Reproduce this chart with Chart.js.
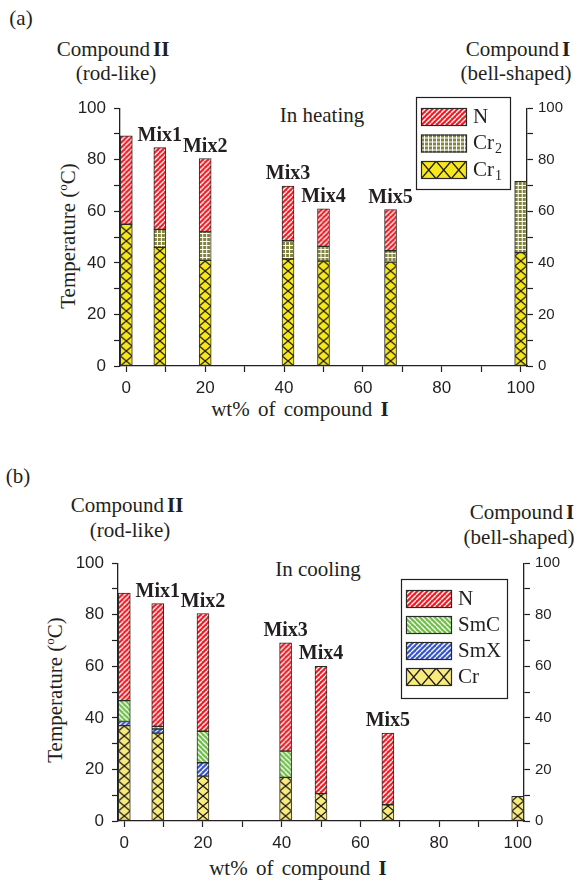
<!DOCTYPE html>
<html>
<head>
<meta charset="utf-8">
<script src="https://cdn.jsdelivr.net/npm/chart.js@4.4.1/dist/chart.umd.min.js"></script>
<style>
  body { margin: 0; background: #fff; }
  #page { position: relative; width: 574px; height: 881px; overflow: hidden; }
  canvas { position: absolute; left: 0; }
  .t { position: absolute; font-family: "Liberation Serif", serif; font-size: 21px; color: #231f20;
       white-space: nowrap; line-height: 1; transform: translate(-50%, -50%); }
  .t b.g { margin-left: 3px; }
  .rot { transform: translate(-50%, -50%) rotate(-90deg); }
  sup { font-size: 13px; vertical-align: 8px; line-height: 0; }
</style>
</head>
<body>
<div id="page">
  <div class="t" style="left:21px;top:18px">(a)</div>
  <div class="t" style="left:113px;top:49px">Compound<b class="g">II</b></div>
  <div class="t" style="left:116px;top:73px">(rod-like)</div>
  <div class="t" style="left:518px;top:49px">Compound<b class="g">I</b></div>
  <div class="t" style="left:516px;top:73px">(bell-shaped)</div>
  <div class="t" style="left:322px;top:115px">In heating</div>
  <div class="t rot" style="left:68px;top:236px">Temperature (<sup>o</sup>C)</div>
  <div class="t" style="left:300px;top:409px;word-spacing:3px">wt% of compound <b>I</b></div>
  <canvas id="heat" width="574" height="330" style="top:90px"></canvas>

  <div class="t" style="left:18px;top:476px">(b)</div>
  <div class="t" style="left:127px;top:505px">Compound<b class="g">II</b></div>
  <div class="t" style="left:130px;top:530px">(rod-like)</div>
  <div class="t" style="left:522px;top:512px">Compound<b class="g">I</b></div>
  <div class="t" style="left:519px;top:537px">(bell-shaped)</div>
  <div class="t" style="left:318px;top:569px">In cooling</div>
  <div class="t rot" style="left:55px;top:690px">Temperature (<sup>o</sup>C)</div>
  <div class="t" style="left:298px;top:868px;word-spacing:3px">wt% of compound <b>I</b></div>
  <canvas id="cool" width="574" height="330" style="top:545px"></canvas>
</div>
<script>
// composition of each sample (wt% of compound I)
var mixPos = [0, 8.5, 20, 41, 50, 67, 100];
var mixNames = ["", "Mix1", "Mix2", "Mix3", "Mix4", "Mix5", ""];

// heating: upper temperature of each phase (null = phase not seen)
var heatCr1 = [55, 46, 41, 41.5, 40.7, 40.3, 44];
var heatCr2 = [null, 53, 52, 48.6, 46.4, 44.7, 71.6];
var heatN = [89.3, 84.7, 80.5, 69.8, 61, 60.7, null];

// cooling: upper temperature of each phase
var coolCr = [37, 34.1, 17.4, 16.9, 10.6, 6.3, 9.6];
var coolSmX = [38.6, 35.7, 22.6, null, null, null, null];
var coolSmC = [46.7, 36.7, 34.8, 27.1, null, null, null];
var coolN = [88.4, 84.3, 80.5, 69.1, 60, 34.1, null];

var tickValues = [0, 20, 40, 60, 80, 100];

var INK = "#231f20";

function makeTile(kind, w, h) {
    var c = document.createElement("canvas");
    c.width = w; c.height = h;
    var g = c.getContext("2d");
    g.fillStyle = kind.color;
    g.fillRect(0, 0, w, h);
    if (kind.type === "stripe" || kind.type === "back") {
        g.strokeStyle = "#fff";
        g.lineWidth = 1.3;
        for (var k = -1; k <= 1; k++) {
            g.beginPath();
            if (kind.type === "stripe") {
                g.moveTo(k * w, h); g.lineTo(k * w + w, 0);
            } else {
                g.moveTo(k * w, 0); g.lineTo(k * w + w, h);
            }
            g.stroke();
        }
    } else if (kind.type === "grid") {
        g.fillStyle = "#fff";
        g.fillRect(w - 1, 0, 1, h);
        g.fillRect(0, h - 1, w, 1);
    } else if (kind.type === "cross") {
        g.strokeStyle = "#1a1a1a";
        g.lineWidth = 1.3;
        g.beginPath();
        g.moveTo(0, 0); g.lineTo(w, h);
        g.moveTo(w, 0); g.lineTo(0, h);
        g.stroke();
    }
    return c;
}

var kinds = {
    N: { type: "stripe", color: "#ee1d25", w: 5, h: 5 },
    Cr2: { type: "grid", color: "#838342", w: 4, h: 4 },
    Cr1: { type: "cross", color: "#f7e71c", w: 12, h: 10 },
    SmC: { type: "back", color: "#6dbf45", w: 5, h: 5 },
    SmX: { type: "stripe", color: "#3655c8", w: 5, h: 5 },
    Cr: { type: "cross", color: "#f8ea7c", w: 12, h: 10 }
};

function patternAt(ctx2d, kind, w, h, ox, oy) {
    var p = ctx2d.createPattern(makeTile(kind, w, h), "repeat");
    if (p.setTransform) p.setTransform(new DOMMatrix([1, 0, 0, 1, ox, oy]));
    return p;
}

function barFill(kind) {
    return function (c) {
        var chart = c.chart;
        if (!c.raw || !chart.scales.x) return kind.color;
        var left = chart.scales.x.getPixelForValue(c.raw.x) - 6;
        var bottom = chart.scales.y.getPixelForValue(0);
        return patternAt(chart.ctx, kind, kind.w, kind.h, left, bottom);
    };
}

// floating segments from stacked transition temperatures
function buildSets(phases) {
    var lower = mixPos.map(function () { return 0; });
    return phases.map(function (ph) {
        var pts = [];
        ph.tops.forEach(function (top, i) {
            if (top === null) return;
            pts.push({ x: mixPos[i], y: [lower[i], top] });
            lower[i] = top;
        });
        return {
            label: ph.label,
            sub: ph.sub,
            kind: ph.kind,
            data: pts,
            backgroundColor: barFill(ph.kind),
            borderColor: "#2a2a2a",
            borderWidth: 1,
            borderSkipped: false,
            barThickness: 12,
            grouped: false
        };
    });
}

function stackTops(lists) {
    return mixPos.map(function (p, i) {
        var t = null;
        lists.forEach(function (l) { if (l[i] !== null) t = l[i]; });
        return t;
    });
}

var mixLabels = {
    id: "mixLabels",
    afterDatasetsDraw: function (chart, args, opts) {
        var ctx = chart.ctx;
        ctx.save();
        ctx.font = "bold 20px 'Liberation Serif'";
        ctx.fillStyle = INK;
        ctx.textAlign = "center";
        ctx.textBaseline = "bottom";
        mixNames.forEach(function (name, i) {
            if (!name) return;
            var x = chart.scales.x.getPixelForValue(mixPos[i]);
            var y = chart.scales.y.getPixelForValue(opts.tops[i]) - 2;
            ctx.fillText(name, x, y);
        });
        ctx.restore();
    }
};

var boxLegend = {
    id: "boxLegend",
    afterDraw: function (chart, args, opts) {
        var ctx = chart.ctx;
        ctx.save();
        ctx.fillStyle = "#fff";
        ctx.fillRect(opts.x, opts.y, opts.w, opts.h);
        ctx.strokeStyle = INK;
        ctx.lineWidth = 1.2;
        ctx.strokeRect(opts.x + 0.5, opts.y + 0.5, opts.w, opts.h);
        var sets = chart.data.datasets.slice().reverse();
        sets.forEach(function (ds, i) {
            var sx = opts.x + 5, sy = opts.y + opts.first + i * opts.step;
            var k = ds.kind;
            var tw = k.type === "cross" ? 46 / 3 : k.w;
            var th = k.type === "cross" ? 18 : k.h;
            ctx.fillStyle = patternAt(ctx, k, tw, th, sx, sy);
            ctx.fillRect(sx, sy, 46, 18);
            ctx.lineWidth = 1.2;
            ctx.strokeStyle = "#2a2a2a";
            ctx.strokeRect(sx + 0.5, sy + 0.5, 45, 17);
            ctx.fillStyle = INK;
            ctx.textBaseline = "middle";
            ctx.font = "21px 'Liberation Serif'";
            ctx.fillText(ds.label, sx + 52, sy + 9);
            if (ds.sub) {
                var lw = ctx.measureText(ds.label).width;
                ctx.font = "14px 'Liberation Serif'";
                ctx.fillText(ds.sub, sx + 53 + lw, sy + 15);
            }
        });
        ctx.restore();
    }
};

function axisY(pos, width, size, pad) {
    return {
        type: "linear",
        position: pos,
        display: true,
        min: 0,
        max: 100,
        afterFit: function (s) { s.width = width; },
        border: { display: true, color: INK, width: 1.3 },
        grid: { drawOnChartArea: false, tickLength: 6, tickColor: INK, tickWidth: 1.2 },
        ticks: {
            stepSize: 10,
            padding: pad,
            color: INK,
            font: { family: "Liberation Sans", size: size },
            callback: function (v) { return tickValues.indexOf(v) >= 0 ? v : ""; }
        }
    };
}

function makeChart(id, sets, tops, leftW, rightW, legend) {
    new Chart(document.getElementById(id).getContext("2d"), {
        type: "bar",
        data: { datasets: sets },
        plugins: [mixLabels, boxLegend],
        options: {
            responsive: false,
            animation: false,
            layout: { padding: { top: 17, left: 0, right: 0, bottom: 0 } },
            plugins: {
                legend: { display: false },
                tooltip: { enabled: false },
                mixLabels: { tops: tops },
                boxLegend: legend
            },
            scales: {
                x: {
                    type: "linear",
                    min: -1.6,
                    max: 101.6,
                    offset: false,
                    afterFit: function (s) { s.height = 54; },
                    border: { display: true, color: INK, width: 1.3 },
                    grid: { offset: false, drawOnChartArea: false, tickLength: 6, tickColor: INK, tickWidth: 1.2 },
                    ticks: {
                        stepSize: 10,
                        includeBounds: false,
                        autoSkip: false,
                        maxRotation: 0,
                        padding: 6,
                        color: INK,
                        font: { family: "Liberation Sans", size: 17 },
                        callback: function (v) { return tickValues.indexOf(v) >= 0 ? v : ""; }
                    }
                },
                y: axisY("left", leftW, 17, 8),
                y2: axisY("right", rightW, 15, 5)
            }
        }
    });
}

makeChart("heat",
    buildSets([
        { label: "Cr", sub: "1", kind: kinds.Cr1, tops: heatCr1 },
        { label: "Cr", sub: "2", kind: kinds.Cr2, tops: heatCr2 },
        { label: "N", kind: kinds.N, tops: heatN }
    ]),
    stackTops([heatCr1, heatCr2, heatN]), 120, 47,
    { x: 416, y: 7, w: 94, h: 92, first: 11, step: 26.5 });

makeChart("cool",
    buildSets([
        { label: "Cr", kind: kinds.Cr, tops: coolCr },
        { label: "SmX", kind: kinds.SmX, tops: coolSmX },
        { label: "SmC", kind: kinds.SmC, tops: coolSmC },
        { label: "N", kind: kinds.N, tops: coolN }
    ]),
    stackTops([coolCr, coolSmX, coolSmC, coolN]), 118, 50,
    { x: 401, y: 34, w: 106, h: 119, first: 11, step: 26 });
</script>
</body>
</html>
